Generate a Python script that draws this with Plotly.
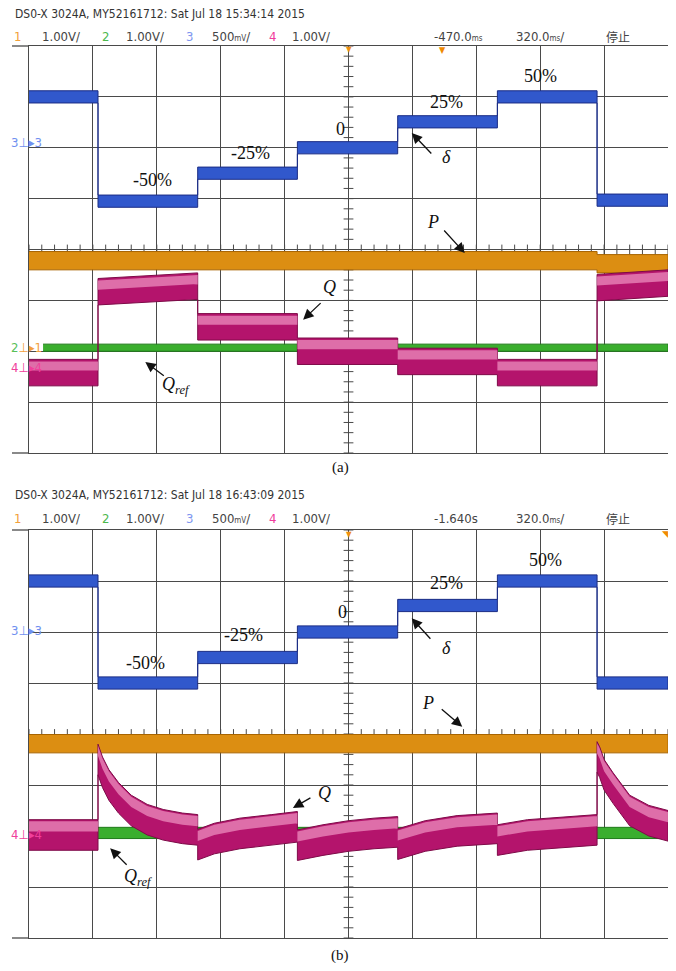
import numpy as np
import plotly.graph_objects as go
from plotly.subplots import make_subplots

# ---------------- data (screen divisions: x 0..10, y -4..4, centre = 0) -------------
STEPS = [1.08, 2.64, 4.20, 5.77, 7.33, 8.89]          # instants of the delta steps
STEP_LABELS = ["-50%", "-25%", "0", "25%", "50%"]

# panel (a)
DELTA_A = [3.0, 0.95, 1.50, 2.00, 2.51, 3.00, 0.97]
P_A = [-0.22, -0.22, -0.22, -0.22, -0.22, -0.22, -0.28]
Q_A_START = [-2.42, -0.83, -1.52, -2.00, -2.20, -2.42, -0.75]
Q_A_END = [-2.42, -0.72, -1.52, -2.00, -2.20, -2.42, -0.66]
QREF_A = -1.93
QREF_A_START = 0.22

# panel (b)
DELTA_B = [3.0, 1.0, 1.50, 2.00, 2.52, 3.00, 1.0]
P_B = [-0.19, -0.19, -0.19, -0.19, -0.19, -0.19, -0.19]
Q_B_SEGMENTS = [
    ([0.0, 1.08], [-1.98, -1.98]),
    ([1.08, 1.15, 1.25, 1.40, 1.60, 1.85, 2.10, 2.40, 2.64],
     [-0.50, -0.75, -1.00, -1.25, -1.50, -1.68, -1.78, -1.85, -1.88]),
    ([2.64, 2.90, 3.30, 3.80, 4.20], [-2.17, -2.05, -1.95, -1.88, -1.82]),
    ([4.20, 4.60, 5.00, 5.40, 5.77], [-2.18, -2.08, -2.00, -1.95, -1.92]),
    ([5.77, 6.20, 6.70, 7.33], [-2.16, -2.00, -1.90, -1.85]),
    ([7.33, 7.80, 8.40, 8.89], [-2.08, -1.98, -1.92, -1.88]),
    ([8.89, 8.93, 9.00, 9.14, 9.40, 9.70, 10.0], [-0.45, -0.55, -0.80, -1.06, -1.50, -1.70, -1.80]),
]
QREF_B = -1.94

HEADER_A = "DS0-X 3024A, MY52161712: Sat Jul 18 15:34:14 2015"
HEADER_B = "DS0-X 3024A, MY52161712: Sat Jul 18 16:43:09 2015"
DELAY_A = "-470.0"
DELAY_B = "-1.640s"

# ---------------- geometry / style ----------------
OFF = 8                      # default page margin around the plot div
W, H = 676 - 2 * OFF, 971 - 2 * OFF
X0, X1 = 29, 668
PANELS = {"a": (46, 453), "b": (530, 938)}
GRID = "#4a4a4a"
BLUE, BLUE_E = "#3158cc", "#1a2c85"
ORANGE, ORANGE_E = "#dc8e12", "#a86400"
MAG, MAG_E = "#b4146c", "#7e0a48"
PINK = "rgba(236,140,190,0.75)"
GREEN, GREEN_E = "#3aae2e", "#1f7a1a"
SERIF = "Liberation Serif, Times New Roman, serif"
COND = "DejaVu Sans Condensed, Liberation Sans Narrow, Arial Narrow, sans-serif"


def px(x):
    return (x - OFF) / W


def py(y):
    return 1 - (y - OFF) / H


def step_path(levels, starts=None, ends=None, x_begin=0.0):
    bounds = [x_begin] + STEPS + [10.0]
    xs, ys = [], []
    for i in range(len(bounds) - 1):
        a = starts[i] if starts else levels[i]
        b = ends[i] if ends else levels[i]
        xs += [bounds[i], bounds[i + 1]]
        ys += [a, b]
    return xs, ys


def band(fig, xs, ys, hw, fill, edge, row, ew=1.0, shift=0.0):
    up = [y + hw + shift for y in ys]
    lo = [y - hw + shift for y in ys]
    fig.add_trace(go.Scatter(x=xs + xs[::-1], y=up + lo[::-1], fill="toself",
                             fillcolor=fill, mode="lines",
                             line=dict(color=edge, width=ew),
                             hoverinfo="skip", showlegend=False),
                  row=row, col=1)


fig = make_subplots(rows=2, cols=1)

for row in (1, 2):
    # centre graticule ticks
    fig.add_trace(go.Scatter(x=[5.0] * 41, y=np.linspace(-4, 4, 41), mode="markers",
                             marker=dict(symbol="line-ew", size=7, line=dict(color=GRID, width=1)),
                             hoverinfo="skip", showlegend=False), row=row, col=1)
    fig.add_trace(go.Scatter(x=np.linspace(0, 10, 51), y=[0.0] * 51, mode="markers",
                             marker=dict(symbol="line-ns", size=7, line=dict(color=GRID, width=1)),
                             hoverinfo="skip", showlegend=False), row=row, col=1)

# ---- panel (a) traces
xs, ys = step_path(P_A)
band(fig, xs, ys, 0.18, ORANGE, ORANGE_E, 1)
band(fig, [QREF_A_START, 10.0], [QREF_A, QREF_A], 0.07, GREEN, GREEN_E, 1)
xs, ys = step_path(None, Q_A_START, Q_A_END)
band(fig, xs, ys, 0.26, MAG, MAG_E, 1)
band(fig, xs, ys, 0.09, PINK, "rgba(0,0,0,0)", 1, ew=0, shift=0.13)
xs, ys = step_path(DELTA_A)
band(fig, xs, ys, 0.12, BLUE, BLUE_E, 1)

# ---- panel (b) traces
xs, ys = step_path(P_B)
band(fig, xs, ys, 0.18, ORANGE, ORANGE_E, 2)
band(fig, [0.0, 10.0], [QREF_B, QREF_B], 0.11, GREEN, GREEN_E, 2)
qx, qy = [], []
for sx, sy in Q_B_SEGMENTS:
    qx += sx
    qy += sy
band(fig, qx, qy, 0.30, MAG, MAG_E, 2)
band(fig, qx, qy, 0.10, PINK, "rgba(0,0,0,0)", 2, ew=0, shift=0.17)
xs, ys = step_path(DELTA_B)
band(fig, xs, ys, 0.12, BLUE, BLUE_E, 2)

# ---- axes
for i, key in ((1, "a"), (2, "b")):
    top, bot = PANELS[key]
    sfx = "" if i == 1 else str(i)
    fig.layout["xaxis" + sfx].update(domain=[px(X0), px(X1)], range=[0, 10], dtick=1, tick0=0,
                                     showgrid=True, gridcolor=GRID, gridwidth=1.3,
                                     showline=True, mirror=True, linecolor=GRID, linewidth=1.3,
                                     zeroline=False, showticklabels=False, ticks="")
    fig.layout["yaxis" + sfx].update(domain=[py(bot), py(top)], range=[-4, 4], dtick=1, tick0=0,
                                     showgrid=True, gridcolor=GRID, gridwidth=1.3,
                                     showline=True, mirror=True, linecolor=GRID, linewidth=1.3,
                                     zeroline=False, showticklabels=False, ticks="")

shapes = []
for key in ("a", "b"):
    top, bot = PANELS[key]
    for yy in (top, bot):
        shapes.append(dict(type="line", xref="paper", yref="paper", x0=px(12), x1=px(X0),
                           y0=py(yy), y1=py(yy), line=dict(color=GRID, width=1.3)))

ann = []


def text(x, y, s, size=13, color="#444", family=COND, xanchor="left", xref="paper", yref="paper"):
    ann.append(dict(x=x, y=y, xref=xref, yref=yref, text=s, showarrow=False,
                    font=dict(size=size, color=color, family=family),
                    xanchor=xanchor, yanchor="middle"))


small = "<span style='font-size:8px'>{}</span>"
for key, head, delay, hy in (("a", HEADER_A, DELAY_A + small.format("ms"), 14),
                              ("b", HEADER_B, DELAY_B, 495)):
    text(px(13), py(hy), head, size=12, color="#333")
    ly = hy + 23
    text(px(17), py(ly), "1", color="#f2a03a", xanchor="center")
    text(px(40), py(ly), "1.00V/")
    text(px(105), py(ly), "2", color="#4cb84c", xanchor="center")
    text(px(124), py(ly), "1.00V/")
    text(px(189), py(ly), "3", color="#8096f0", xanchor="center")
    text(px(210), py(ly), "500" + small.format("mV") + "/")
    text(px(272), py(ly), "4", color="#f03c9c", xanchor="center")
    text(px(290), py(ly), "1.00V/")
    text(px(432), py(ly), delay)
    text(px(514), py(ly), "320.0" + small.format("ms") + "/")
    text(px(604), py(ly), "停止", family="Noto Sans CJK SC", size=12)

# trigger markers
for key in ("a", "b"):
    top, bot = PANELS[key]
    text(px(349), py(top + 4), "▼", size=8, color="#f09010", xanchor="center")
text(px(442), py(50), "▼", size=9, color="#f08a00", xanchor="center")
text(px(665), py(534), "◥", size=9, color="#f08a00", xanchor="center")

# channel markers
text(px(9), py(142), "3⊥▸3", size=13, color="#7090f0")
text(px(9), py(348), "<span style='color:#58c058'>2</span>⊥▸1", size=13, color="#f2a040")
text(px(9), py(367), "4⊥▸4", size=13, color="#f0409c")
text(px(9), py(630), "3⊥▸3", size=13, color="#7090f0")
text(px(9), py(834), "4⊥▸4", size=13, color="#f0409c")

# labels in data coordinates
LAB_A = [(1.94, 1.37), (3.47, 1.90), (4.87, 2.37), (6.54, 2.90), (8.0, 3.41)]
LAB_B = [(1.82, 1.39), (3.36, 1.94), (4.90, 2.39), (6.54, 2.96), (8.08, 3.41)]
for (xr, yr), labs in (("x", "y"), LAB_A), (("x2", "y2"), LAB_B):
    for (lx, ly), s in zip(labs, STEP_LABELS):
        text(lx, ly, s, size=18, color="#111", family=SERIF, xanchor="center", xref=xr, yref=yr)


def arrow(x, y, axp, ayp, xr, yr):
    ann.append(dict(x=x, y=y, xref=xr, yref=yr, ax=axp, ay=ayp, text="", showarrow=True,
                    arrowhead=2, arrowsize=1.6, arrowwidth=1.3, arrowcolor="#111"))


for xr, yr, d in (("x", "y", dict(delta=(6.53, 1.82), dA=(5.99, 2.29, 21, 22),
                                   P=(6.32, 0.54), pA=(6.82, -0.07, -22, -24),
                                   Q=(4.71, -0.73), qA=(4.29, -1.38, 19, -18),
                                   R=(2.30, -2.68), rA=(1.82, -2.21, 20, 15))),
                  ("x2", "y2", dict(delta=(6.54, 1.69), dA=(5.99, 2.27, 20, 22),
                                    P=(6.24, 0.61), pA=(6.78, 0.14, -22, -19),
                                    Q=(4.63, -1.16), qA=(4.13, -1.45, 19, -11),
                                    R=(1.71, -2.82), rA=(1.27, -2.24, 18, 18)))):
    text(*d["delta"], "<i>δ</i>", size=18, color="#111", family=SERIF, xanchor="center", xref=xr, yref=yr)
    text(*d["P"], "<i>P</i>", size=18, color="#111", family=SERIF, xanchor="center", xref=xr, yref=yr)
    text(*d["Q"], "<i>Q</i>", size=18, color="#111", family=SERIF, xanchor="center", xref=xr, yref=yr)
    text(*d["R"], "<i>Q</i><sub><i>ref</i></sub>", size=18, color="#111", family=SERIF,
         xanchor="center", xref=xr, yref=yr)
    for k in ("dA", "pA", "qA", "rA"):
        arrow(*d[k], xr, yr)

text(px(340), py(467), "(a)", size=15, color="#111", family=SERIF, xanchor="center")
text(px(340), py(955), "(b)", size=15, color="#111", family=SERIF, xanchor="center")

fig.update_layout(width=W, height=H, margin=dict(l=0, r=0, t=0, b=0),
                  paper_bgcolor="white", plot_bgcolor="white",
                  shapes=shapes, annotations=ann, showlegend=False)
fig.write_html("out.html")
